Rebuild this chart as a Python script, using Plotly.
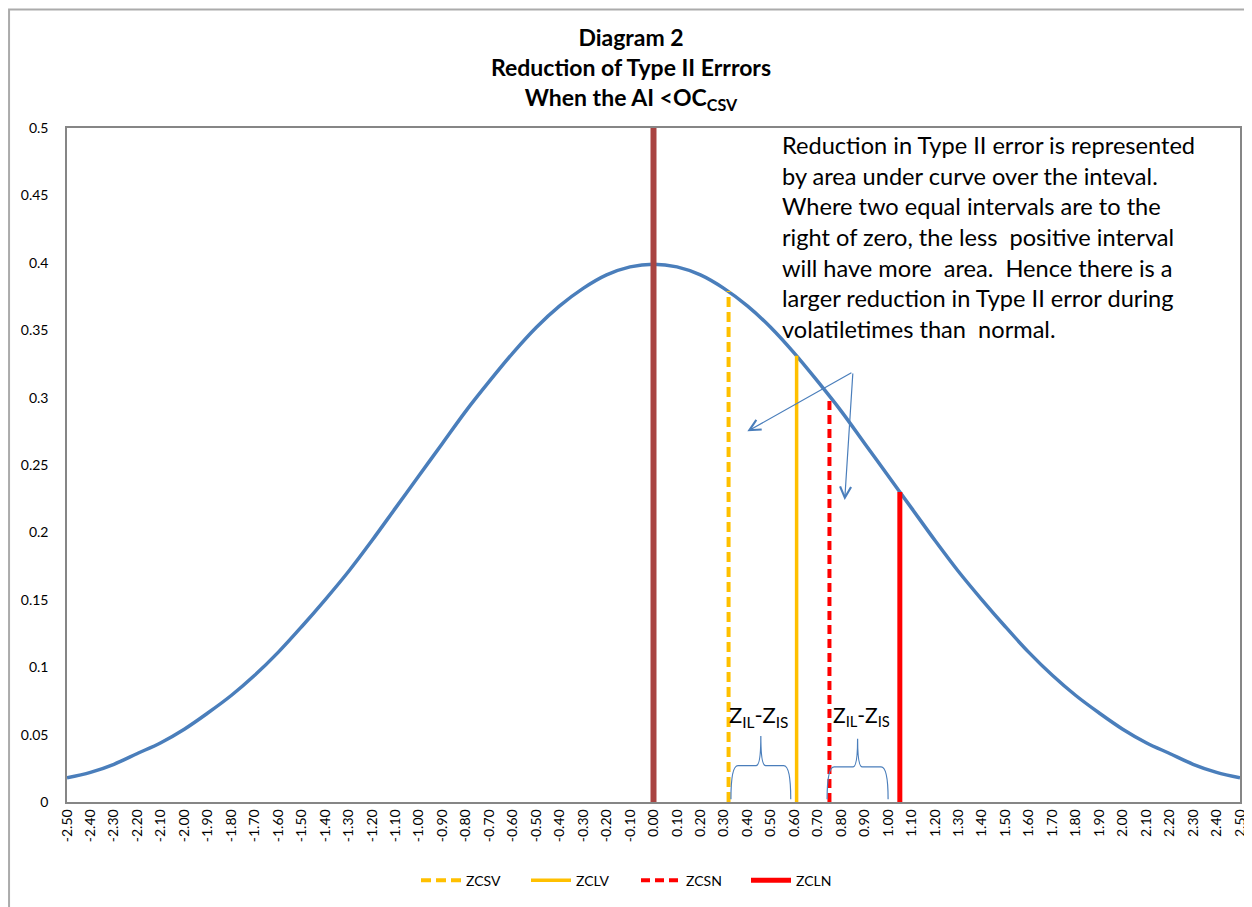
import plotly.graph_objects as go

# ---- data ----
z_vals = [round(-2.5 + 0.1 * i, 2) for i in range(51)]
pdf_right = [0.399, 0.397, 0.391, 0.381, 0.368, 0.352, 0.333, 0.312, 0.290, 0.266,
             0.242, 0.218, 0.194, 0.171, 0.150, 0.130, 0.111, 0.094, 0.079, 0.066,
             0.054, 0.044, 0.036, 0.028, 0.022, 0.018]
curve_y = pdf_right[::-1] + pdf_right[1:]

line_names = ["ZCSV", "ZCLV", "ZCSN", "ZCLN"]
line_z = [0.32, 0.61, 0.75, 1.05]
line_h = [0.379, 0.331, 0.301, 0.230]
line_colors = ["#FFC000", "#FFC000", "#FF0000", "#FF0000"]
line_dash = ["10px,5px", "solid", "9px,5px", "solid"]
line_width = [4, 3.5, 4, 5]

center_z = 0.0
center_top = 0.5

tick_vals = z_vals
tick_text = ["%.2f" % v for v in z_vals]
y_ticks = [0, 0.05, 0.1, 0.15, 0.2, 0.25, 0.3, 0.35, 0.4, 0.45, 0.5]
y_text = ["0", "0.05", "0.1", "0.15", "0.2", "0.25", "0.3", "0.35", "0.4", "0.45", "0.5"]

note_lines = [
    "Reduction in Type II error is represented",
    "by area under curve over the inteval.",
    "Where two equal intervals are to the",
    "right of zero, the less  positive interval",
    "will have more  area.  Hence there is a",
    "larger reduction in Type II error during",
    "volatiletimes than  normal.",
]

FONT = "Lato, 'Open Sans', sans-serif"

fig = go.Figure()

# normal curve
fig.add_trace(go.Scatter(x=z_vals, y=curve_y, mode="lines",
                         line=dict(color="#4A7EBB", width=3.5, shape="spline"),
                         showlegend=False, hoverinfo="skip"))
# centre line
fig.add_trace(go.Scatter(x=[center_z, center_z], y=[0, center_top], mode="lines",
                         line=dict(color="#A94442", width=6),
                         showlegend=False, hoverinfo="skip"))
# vertical lines
for n, z, h, c, d, w in zip(line_names, line_z, line_h, line_colors, line_dash, line_width):
    fig.add_trace(go.Scatter(x=[z, z], y=[0, h], mode="lines", name=n,
                             line=dict(color=c, width=w, dash=d)))

# braces (decorations)
def brace(x0, x1, ybot, ymid, ypk):
    xm = (x0 + x1) / 2
    return (f"M {x0} {ybot} Q {x0} {ymid} {x0+0.03} {ymid} L {xm-0.02} {ymid} "
            f"Q {xm} {ymid} {xm} {ypk} Q {xm} {ymid} {xm+0.02} {ymid} "
            f"L {x1-0.03} {ymid} Q {x1} {ymid} {x1} {ybot}")

shapes = [
    dict(type="path", xref="x", yref="y", path=brace(0.33, 0.585, 0.002, 0.027, 0.049),
         line=dict(color="#4A7EBB", width=1.2)),
    dict(type="path", xref="x", yref="y", path=brace(0.74, 1.0, 0.002, 0.026, 0.047),
         line=dict(color="#4A7EBB", width=1.2)),
    # outer chart border
    dict(type="rect", xref="paper", yref="paper", x0=-0.0494, x1=1.0085, y0=-0.2, y1=1.176,
         line=dict(color="#ABABAB", width=2), layer="above"),
]

annotations = [
    dict(xref="paper", yref="paper", x=(631 - 67) / 1173, y=1.089, xanchor="center", yanchor="middle",
         text="<b>Diagram 2<br>Reduction of Type II Errrors<br>When the AI &lt;OC<sub>CSV</sub></b>",
         showarrow=False, font=dict(family=FONT, size=23, color="#000000")),
    dict(xref="x", yref="y", x=0.54, y=0.4993, xanchor="left", yanchor="top", align="left",
         text="<br>".join(note_lines), showarrow=False,
         font=dict(family=FONT, size=23.6, color="#000000")),
    dict(xref="x", yref="y", x=0.313, y=0.064, xanchor="left", yanchor="middle",
         text="Z<sub>IL</sub>-Z<sub>IS</sub>", showarrow=False,
         font=dict(family=FONT, size=22, color="#000000")),
    dict(xref="x", yref="y", x=0.755, y=0.064, xanchor="left", yanchor="middle",
         text="Z<sub>IL</sub>-Z<sub>IS</sub>", showarrow=False,
         font=dict(family=FONT, size=21, color="#000000")),
    dict(xref="x", yref="y", axref="x", ayref="y", x=0.40, y=0.275, ax=0.85, ay=0.319,
         text="", showarrow=True, arrowhead=5, arrowsize=1.8, arrowwidth=1.2, arrowcolor="#4A7EBB"),
    dict(xref="x", yref="y", axref="x", ayref="y", x=0.815, y=0.224, ax=0.85, ay=0.319,
         text="", showarrow=True, arrowhead=5, arrowsize=1.8, arrowwidth=1.2, arrowcolor="#4A7EBB"),
]

fig.update_layout(
    width=1244, height=899,
    margin=dict(l=59, r=12, t=120, b=104),
    paper_bgcolor="white", plot_bgcolor="white",
    font=dict(family=FONT, size=14, color="#000000"),
    shapes=shapes, annotations=annotations,
    legend=dict(orientation="h", x=(636 - 67) / 1173, xanchor="center", y=-0.115, yanchor="middle",
                font=dict(family=FONT, size=14), itemwidth=40,
                entrywidth=55, entrywidthmode="pixels"),
    xaxis=dict(range=[-2.5, 2.5], tickmode="array", tickvals=tick_vals, ticktext=tick_text,
               tickangle=-90, showgrid=False, zeroline=False, showline=True,
               linecolor="#868686", linewidth=1.5, mirror=True, ticks="", automargin=False,
               tickfont=dict(family=FONT, size=14)),
    yaxis=dict(range=[0, 0.5], tickmode="array", tickvals=y_ticks, ticktext=y_text,
               showgrid=False, zeroline=False, showline=True, linecolor="#868686",
               linewidth=1.5, mirror=True, ticks="", ticklabelstandoff=14, automargin=False,
               tickfont=dict(family=FONT, size=14)),
)

fig.write_html("out.html")
